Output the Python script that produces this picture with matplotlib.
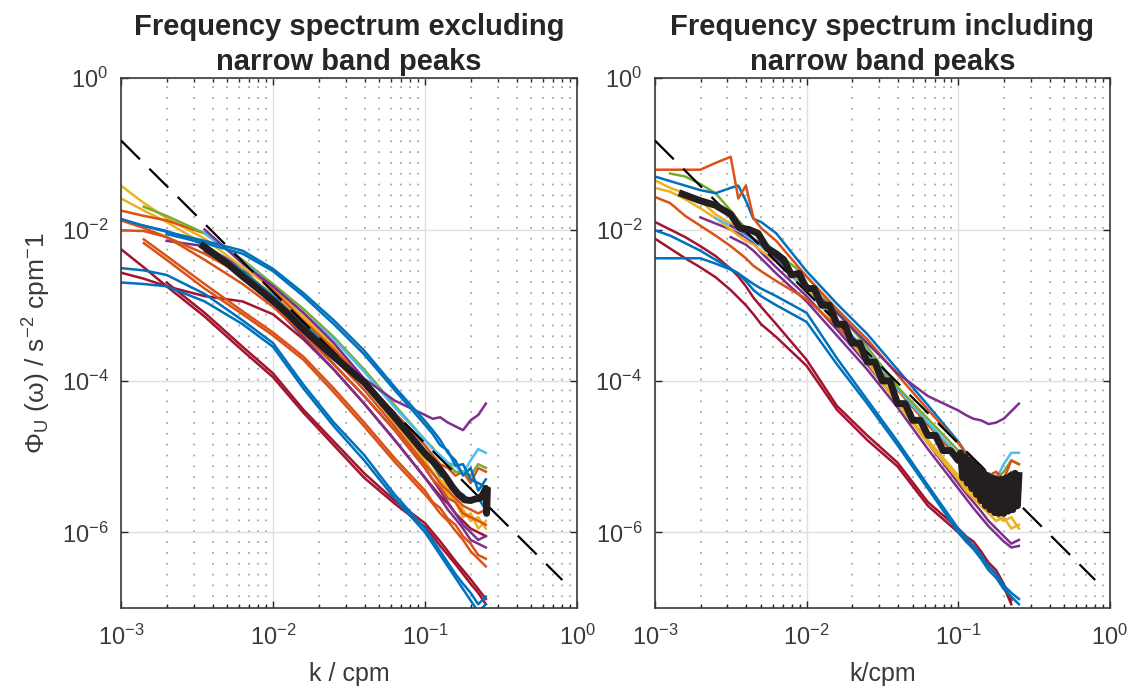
import numpy as np
import matplotlib
matplotlib.use('Agg')
import matplotlib.pyplot as plt
from matplotlib.ticker import LogLocator, NullLocator, NullFormatter

plt.rcParams['font.family'] = ['Liberation Sans', 'DejaVu Sans']
plt.rcParams['mathtext.fontset'] = 'custom'
plt.rcParams['mathtext.rm'] = 'Liberation Sans'
plt.rcParams['mathtext.it'] = 'Liberation Sans:italic'
plt.rcParams['mathtext.bf'] = 'Liberation Sans:bold'

nan = np.nan

# MATLAB default colour order
c_blue = '#0072BD'
c_orange = '#D95319'
c_yellow = '#EDB120'
c_purple = '#7E2F8E'
c_green = '#77AC30'
c_cyan = '#4DBEEE'
c_red = '#A2142F'

# ---------------- left panel: excluding narrow band peaks ----------------
# log10(k / cpm)
k_left = [-3.0, -2.85, -2.7, -2.45, -2.2, -2.0, -1.8, -1.6, -1.4, -1.2,
          -1.0, -0.95, -0.9, -0.85, -0.8, -0.75, -0.7, -0.65, -0.6]

# log10(spectral level) for each profile
left_blue_top = [-1.86, -1.95, -2.03, -2.15, -2.28, -2.52, -2.84, -3.2, -3.6, -4.08,
                 -4.53, -4.65, -4.78, -4.95, -5.05, -5.25, -5.15, -5.45, -5.3]
left_blue_top2 = [nan, nan, -2.06, -2.18, -2.32, -2.55, -2.88, -3.25, -3.65, -4.12,
                  -4.58, -4.7, -4.85, -4.92, -5.12, -5.1, -5.3, -5.35, -5.4]
left_blue_mid = [nan, -1.95, -2.02, -2.2, -2.55, -2.88, -3.25, -3.62, -4.02, -4.48,
                 -4.95, -5.1, -5.25, -5.3, -5.45, -5.5, -5.6, -5.55, -5.7]
left_green = [nan, -1.70, -1.82, -2.05, -2.40, -2.72, -3.05, -3.42, -3.85, -4.32,
              -4.78, -4.88, -5.02, -5.08, -5.2, -5.2, -5.25, -5.1, -5.15]
left_cyan = [nan, nan, nan, -2.05, -2.42, -2.75, -3.1, -3.45, -3.88, -4.35,
             -4.78, -4.9, -4.98, -5.08, -5.12, -5.22, -5.05, -4.9, -4.95]
left_yellow1 = [-1.42, -1.65, -1.85, -2.12, -2.50, -2.78, -3.15, -3.55, -3.98, -4.45,
                -4.95, -5.1, -5.3, -5.4, -5.6, -5.7, -5.85, -5.8, -5.95]
left_yellow2 = [-1.59, -1.75, -1.90, -2.2, -2.55, -2.85, -3.2, -3.62, -4.05, -4.55,
                -5.05, -5.2, -5.35, -5.5, -5.6, -5.8, -5.75, -5.95, -5.85]
left_orange1 = [-1.75, -1.82, -1.88, -2.05, -2.42, -2.80, -3.2, -3.58, -4.0, -4.42,
                -4.85, -4.98, -5.1, -5.15, -5.25, -5.2, -5.35, -5.15, -5.2]
left_orange2 = [-1.88, -1.98, -2.1, -2.32, -2.6, -2.9, -3.28, -3.7, -4.12, -4.6,
                -5.1, -5.22, -5.35, -5.45, -5.55, -5.65, -5.7, -5.75, -5.7]
left_orange3 = [-2.01, -2.02, -2.1, -2.4, -2.72, -3.02, -3.38, -3.78, -4.2, -4.65,
                -5.15, -5.3, -5.4, -5.55, -5.6, -5.75, -5.8, -5.85, -5.9]
left_orange_low1 = [nan, -2.18, -2.40, -2.78, -3.12, -3.40, -3.72, -4.15, -4.60, -5.07,
                    -5.50, -5.62, -5.75, -5.85, -5.98, -6.1, -6.25, -6.35, -6.45]
left_orange_low2 = [nan, -2.13, -2.35, -2.72, -3.08, -3.36, -3.68, -4.1, -4.55, -5.02,
                    -5.45, -5.6, -5.68, -5.82, -5.9, -6.05, -6.15, -6.3, -6.35]
left_purple_out = [nan, nan, nan, -2.0, -2.45, -2.75, -3.10, -3.50, -3.97, -4.26,
                   -4.45, -4.5, -4.48, -4.55, -4.6, -4.65, -4.52, -4.45, -4.3]
left_purple1 = [nan, nan, -2.15, -2.22, -2.5, -2.95, -3.35, -3.78, -4.2, -4.65,
                -5.15, -5.3, -5.45, -5.6, -5.75, -5.9, -6.0, -6.1, -6.05]
left_purple2 = [nan, nan, nan, -2.3, -2.6, -3.0, -3.42, -3.85, -4.3, -4.78,
                -5.28, -5.42, -5.55, -5.7, -5.82, -5.95, -6.1, -6.15, -6.2]
left_red1 = [-2.26, -2.5, -2.75, -3.15, -3.6, -3.95, -4.42, -4.85, -5.28, -5.62,
             -5.93, -6.05, -6.18, -6.3, -6.42, -6.55, -6.68, -6.8, -6.95]
left_red1b = [nan, nan, -2.7, -3.1, -3.55, -3.9, -4.38, -4.8, -5.22, -5.58,
              -5.88, -6.0, -6.12, -6.25, -6.38, -6.5, -6.62, -6.75, -6.88]
left_red2 = [-2.57, -2.65, -2.75, -2.88, -2.95, -3.12, -3.45, -3.85, -4.3, -4.78,
             -5.28, -5.4, -5.52, -5.62, -5.75, -5.85, -5.95, -6.0, -6.05]
left_blue_low1 = [-2.51, -2.54, -2.6, -2.85, -3.2, -3.5, -4.05, -4.55, -4.98, -5.5,
                  -5.95, -6.1, -6.25, -6.4, -6.55, -6.68, -6.8, -6.95, -6.85]
left_blue_low2 = [-2.70, -2.72, -2.75, -2.95, -3.25, -3.55, -4.1, -4.6, -5.05, -5.55,
                  -6.0, -6.15, -6.3, -6.45, -6.6, -6.75, -6.9, -7.05, -6.95]

left_series = [
    (left_red1, c_red), (left_red1b, c_red), (left_red2, c_red),
    (left_blue_low1, c_blue), (left_blue_low2, c_blue),
    (left_orange_low1, c_orange), (left_orange_low2, c_orange),
    (left_purple1, c_purple), (left_purple2, c_purple),
    (left_yellow1, c_yellow), (left_yellow2, c_yellow),
    (left_orange1, c_orange), (left_orange2, c_orange), (left_orange3, c_orange),
    (left_blue_mid, c_blue), (left_green, c_green), (left_cyan, c_cyan),
    (left_purple_out, c_purple), (left_blue_top, c_blue), (left_blue_top2, c_blue),
]

# mean spectrum (left)
k_mean_left = [-2.46, -2.3, -2.2, -2.1, -2.0, -1.9, -1.8, -1.7, -1.6, -1.5, -1.4, -1.3,
               -1.2, -1.1, -1.0, -0.95, -0.9, -0.86, -0.82, -0.78, -0.74, -0.7, -0.67,
               -0.64, -0.62, -0.6, -0.595, -0.59]
mean_left = [-2.22, -2.45, -2.62, -2.78, -2.94, -3.12, -3.32, -3.5, -3.68, -3.85, -4.02, -4.25,
             -4.48, -4.72, -4.96, -5.06, -5.17, -5.28, -5.4, -5.5, -5.57, -5.58, -5.56,
             -5.55, -5.5, -5.42, -5.75, -5.45]

# ---------------- right panel: including narrow band peaks ----------------
k_right = [-3.0, -2.9, -2.8, -2.7, -2.6, -2.5, -2.45, -2.4, -2.35, -2.3, -2.2, -2.0,
           -1.8, -1.6, -1.4, -1.2, -1.0, -0.95, -0.9, -0.85, -0.8, -0.75, -0.7, -0.65, -0.6]

right_orange_peak = [-1.21, -1.21, -1.21, -1.21, -1.12, -1.04, -1.59, -1.42, -1.85, -1.98,
                     -2.15, -2.62, -3.05, -3.45, -3.92, -4.38, -4.82, -4.95, -5.05, -5.12,
                     -5.25, -5.2, -5.3, -5.05, -5.1]
right_orange2 = [-1.57, -1.65, -1.82, -1.95, -2.08, -2.22, -2.3, -2.38, -2.48, -2.55,
                 -2.68, -2.92, -3.28, -3.68, -4.12, -4.58, -5.02, -5.12, -5.2, -5.3,
                 -5.35, -5.25, -5.4, -5.2, -5.3]
right_blue_peak = [-1.30, -1.36, -1.42, -1.48, -1.52, -1.45, -1.42, -1.62, -1.86, -1.9,
                   -2.05, -2.55, -2.98, -3.38, -3.85, -4.32, -4.8, -4.95, -5.05, -5.2,
                   -5.28, -5.4, -5.35, -5.5, -5.45]
right_green = [nan, -1.26, -1.30, -1.40, -1.52, -1.75, -1.88, -1.98, -2.05, -2.12,
               -2.3, -2.62, -3.08, -3.55, -4.08, -4.5, -4.92, -5.02, -5.1, -5.18,
               -5.25, -5.3, -5.2, -5.05, -5.1]
right_yellow1 = [-1.35, -1.45, -1.52, -1.62, -1.8, -1.92, -1.98, -2.05, -2.12, -2.2,
                 -2.38, -2.75, -3.22, -3.72, -4.28, -4.78, -5.25, -5.4, -5.5, -5.6,
                 -5.7, -5.78, -5.85, -5.8, -5.95]
right_yellow2 = [-1.45, -1.5, -1.6, -1.72, -1.85, -2.0, -2.08, -2.15, -2.2, -2.28,
                 -2.42, -2.8, -3.25, -3.75, -4.3, -4.82, -5.3, -5.45, -5.55, -5.65,
                 -5.75, -5.85, -5.8, -5.95, -5.9]
right_cyan = [nan, nan, nan, nan, -1.85, -1.95, -2.0, -2.08, -2.15, -2.22,
              -2.38, -2.82, -3.2, -3.6, -4.1, -4.55, -4.98, -5.08, -5.15, -5.2,
              -5.28, -5.3, -5.1, -4.95, -4.95]
right_purple1 = [nan, nan, nan, -1.84, -1.92, -2.0, -2.05, -2.1, -2.18, -2.3,
                 -2.5, -2.88, -3.32, -3.78, -4.28, -4.82, -5.35, -5.48, -5.6, -5.72,
                 -5.85, -5.95, -6.05, -6.15, -6.1]
right_purple2 = [nan, nan, nan, nan, nan, -2.1, -2.15, -2.2, -2.28, -2.38,
                 -2.58, -2.95, -3.4, -3.85, -4.35, -4.9, -5.42, -5.55, -5.68, -5.8,
                 -5.92, -6.02, -6.12, -6.2, -6.18]
right_purple_out = [nan, nan, nan, nan, nan, -1.95, -2.0, -2.05, -2.12, -2.2,
                    -2.38, -2.72, -3.1, -3.5, -3.9, -4.2, -4.39, -4.45, -4.5, -4.52,
                    -4.57, -4.55, -4.5, -4.4, -4.3]
right_red1 = [-1.90, -2.0, -2.1, -2.22, -2.35, -2.52, -2.62, -2.75, -2.9, -3.02,
              -3.25, -3.72, -4.33, -4.72, -5.08, -5.6, -5.95, -6.05, -6.12, -6.25,
              -6.4, -6.5, -6.68, -6.9, nan]
right_red2 = [-2.12, -2.25, -2.38, -2.5, -2.63, -2.8, -2.9, -3.0, -3.12, -3.25,
              -3.42, -3.8, -4.38, -4.78, -5.13, -5.65, -6.0, -6.1, -6.18, -6.3,
              -6.45, -6.55, -6.72, -6.95, nan]
right_blue2 = [-2.01, -2.08, -2.18, -2.28, -2.4, -2.52, -2.58, -2.65, -2.72, -2.78,
               -2.88, -3.1, -3.7, -4.25, -4.8, -5.38, -5.95, -6.05, -6.18, -6.3,
               -6.45, -6.55, -6.7, -6.8, -6.88]
right_blue_flat = [-2.38, -2.38, -2.38, -2.38, -2.45, -2.53, -2.58, -2.68, -2.8, -2.88,
                   -3.0, -3.22, -3.78, -4.3, -4.85, -5.42, -6.0, -6.12, -6.22, -6.35,
                   -6.5, -6.6, -6.75, -6.85, -6.95]

right_series = [
    (right_red1, c_red), (right_red2, c_red),
    (right_blue2, c_blue), (right_blue_flat, c_blue),
    (right_purple1, c_purple), (right_purple2, c_purple),
    (right_yellow1, c_yellow), (right_yellow2, c_yellow),
    (right_orange2, c_orange), (right_cyan, c_cyan), (right_green, c_green),
    (right_blue_peak, c_blue), (right_orange_peak, c_orange),
    (right_purple_out, c_purple),
]

# mean spectrum (right): staircase, then a noisy band at high k
k_mean_right = [-2.82, -2.7, -2.6, -2.5, -2.44, -2.38, -2.32, -2.26, -2.2, -2.15, -2.1,
                -2.05, -2.0, -1.95, -1.9, -1.85, -1.8, -1.75, -1.7, -1.65, -1.6, -1.55,
                -1.5, -1.45, -1.4, -1.35, -1.3, -1.25, -1.2, -1.15, -1.1, -1.05, -1.0,
                -0.985, -0.97, -0.955, -0.94, -0.925, -0.91, -0.895, -0.88, -0.865,
                -0.85, -0.835, -0.82, -0.805, -0.79, -0.775, -0.76, -0.745, -0.73,
                -0.715, -0.70, -0.685, -0.67, -0.655, -0.64, -0.625, -0.61, -0.60]
mean_right = [-1.53, -1.62, -1.68, -1.80, -1.98, -2.0, -2.05, -2.25, -2.32, -2.40, -2.6,
              -2.58, -2.78, -2.78, -3.0, -3.0, -3.25, -3.25, -3.5, -3.5, -3.75, -3.75,
              -4.0, -4.0, -4.3, -4.3, -4.52, -4.52, -4.72, -4.72, -4.92, -4.92, -5.05,
              -4.95, -5.28, -5.0, -5.35, -5.05, -5.42, -5.1, -5.5, -5.15,
              -5.58, -5.2, -5.65, -5.25, -5.7, -5.28, -5.74, -5.3, -5.75,
              -5.3, -5.75, -5.28, -5.72, -5.25, -5.7, -5.22, -5.65, -5.25]

# k^-2 reference line
k_ref = [1e-3, 0.8]
phi_ref = [0.15, 0.15 * (1e-3 / 0.8) ** 2]


def style_axes(ax, title, xlabel):
    ax.set_xscale('log')
    ax.set_yscale('log')
    ax.set_xlim(1e-3, 1)
    ax.set_ylim(1e-7, 1)
    ax.xaxis.set_major_locator(LogLocator(base=10, numticks=10))
    ax.xaxis.set_minor_locator(LogLocator(base=10, subs=np.arange(2, 10), numticks=10))
    ax.xaxis.set_minor_formatter(NullFormatter())
    ax.set_yticks([1e-6, 1e-4, 1e-2, 1])
    ax.yaxis.set_minor_locator(NullLocator())
    ax.set_axisbelow(True)
    ax.grid(True, which='major', color='#e0e0e0', lw=1.0, ls='-')
    ax.grid(True, which='minor', axis='x', color='#a8a8a8', lw=1.3, ls=(0, (1, 5)))
    ax.tick_params(which='both', direction='in', top=True, right=True,
                   color='#262626', labelcolor='#3a3a3a', labelsize=17, width=1)
    ax.tick_params(which='major', length=5)
    ax.tick_params(which='minor', length=3)
    ax.tick_params(axis='x', which='major', pad=12)
    ax.tick_params(axis='y', which='major', pad=9)
    for s in ax.spines.values():
        s.set_color('#3a3a3a')
        s.set_linewidth(1.2)
    ax.set_title(title, fontsize=21, fontweight='bold', color='#262626', pad=6,
                 linespacing=1.3)
    ax.set_xlabel(xlabel, fontsize=18, color='#3a3a3a', labelpad=9)


fig = plt.figure(figsize=(11.33, 6.9), dpi=100)
ax1 = fig.add_axes([0.1068, 0.1188, 0.4025, 0.768])
ax2 = fig.add_axes([0.578, 0.1188, 0.4016, 0.768])

for vals, col in left_series:
    ax1.plot(10 ** np.array(k_left), 10 ** np.array(vals), color=col, lw=1.8)
ax1.plot(k_ref, phi_ref, color='#000000', lw=1.6, ls=(0, (12, 6)), zorder=4)
ax1.plot(10 ** np.array(k_mean_left), 10 ** np.array(mean_left), color='#231f20',
         lw=5, zorder=5)

for vals, col in right_series:
    ax2.plot(10 ** np.array(k_right), 10 ** np.array(vals), color=col, lw=1.8)
ax2.plot(k_ref, phi_ref, color='#000000', lw=1.6, ls=(0, (12, 6)), zorder=4)
ax2.plot(10 ** np.array(k_mean_right), 10 ** np.array(mean_right), color='#231f20',
         lw=5, zorder=5)

style_axes(ax1, 'Frequency spectrum excluding\nnarrow band peaks', 'k / cpm')
style_axes(ax2, 'Frequency spectrum including\nnarrow band peaks', 'k/cpm')
ax1.set_ylabel(r'$\Phi_{\rm U}$ ($\rm\omega$) / s$^{-2}$ cpm$^{-}$1', fontsize=19,
               color='#3a3a3a', labelpad=6)

fig.savefig('out.png', dpi=100)
